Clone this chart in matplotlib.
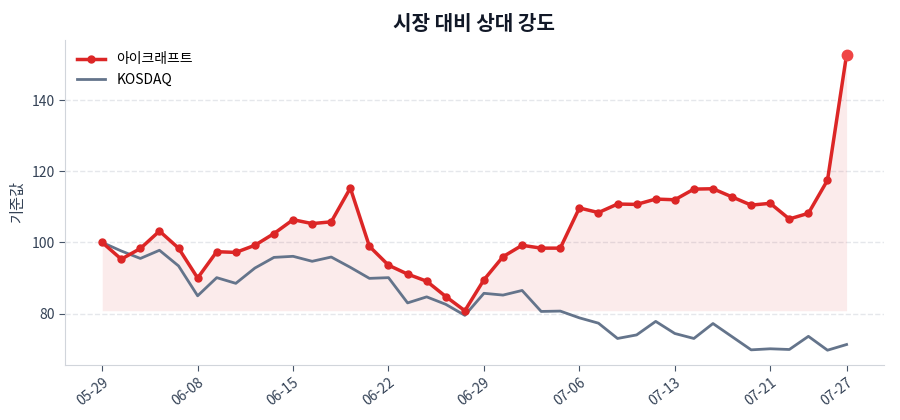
import matplotlib
matplotlib.use("Agg")
import matplotlib.pyplot as plt
import numpy as np

plt.rcParams['font.family'] = ['Noto Sans CJK KR', 'DejaVu Sans']

dates = ["05-29", "06-01", "06-02", "06-04", "06-05", "06-08", "06-09", "06-10", "06-11", "06-12",
         "06-15", "06-16", "06-17", "06-18", "06-19", "06-22", "06-23", "06-24", "06-25", "06-26",
         "06-29", "06-30", "07-01", "07-02", "07-03", "07-06", "07-07", "07-08", "07-09", "07-10",
         "07-13", "07-14", "07-15", "07-16", "07-17", "07-21", "07-22", "07-23", "07-24", "07-27"]
stock = [100.0, 95.3, 98.3, 103.2, 98.4, 90.0, 97.4, 97.2, 99.2, 102.5,
         106.4, 105.3, 105.8, 115.3, 98.9, 93.6, 91.1, 89.1, 84.8, 80.8,
         89.5, 96.0, 99.2, 98.4, 98.4, 109.7, 108.4, 110.8, 110.7, 112.2,
         112.0, 115.0, 115.1, 112.8, 110.5, 111.0, 106.6, 108.2, 117.5, 152.8]
kosdaq = [100.0, 97.6, 95.5, 97.8, 93.4, 85.0, 90.1, 88.5, 92.8, 95.8,
          96.1, 94.7, 95.9, 93.0, 89.9, 90.1, 83.0, 84.7, 82.6, 79.5,
          85.7, 85.2, 86.5, 80.6, 80.7, 78.8, 77.3, 73.0, 74.0, 77.8,
          74.4, 73.0, 77.2, 73.5, 69.8, 70.1, 69.9, 73.6, 69.7, 71.3]
tick_idx = [0, 5, 10, 15, 20, 25, 30, 35, 39]

x = np.arange(len(dates))
s = np.array(stock)
k = np.array(kosdaq)

fig = plt.figure(figsize=(9, 4.2), dpi=100)
ax = fig.add_axes([0.0722, 0.131, 0.9098, 0.774])

ax.fill_between(x, s, s.min(), color='#dc2626', alpha=0.09, linewidth=0)
ax.plot(x, s, color='#dc2626', lw=2.5, marker='o', ms=5, label='아이크래프트', zorder=3)
ax.plot(x, k, color='#64748b', lw=2, label='KOSDAQ', zorder=2)
ax.plot([x[-1]], [s[-1]], 'o', color='#ef4444', ms=7.5, zorder=4)

ax.set_xticks(tick_idx)
ax.set_xticklabels([dates[i] for i in tick_idx], rotation=38, ha='right', rotation_mode='anchor')
ax.set_yticks([80, 100, 120, 140])
ax.grid(axis='y', linestyle='--', color='#e5e7eb', lw=1)
ax.set_axisbelow(True)
for sp in ['top', 'right']:
    ax.spines[sp].set_visible(False)
for sp in ['left', 'bottom']:
    ax.spines[sp].set_color('#d1d5db')
ax.tick_params(colors='#475569', labelsize=10, length=4)
ax.tick_params(axis='both', labelcolor='#334155')
ax.set_ylabel('기준값', color='#334155', fontsize=11)
ax.set_title('시장 대비 상대 강도', fontsize=14.5, fontweight='bold', color='#111827', pad=7)
leg = ax.legend(loc='upper left', frameon=False, fontsize=10)

fig.savefig('out.png', dpi=100)
